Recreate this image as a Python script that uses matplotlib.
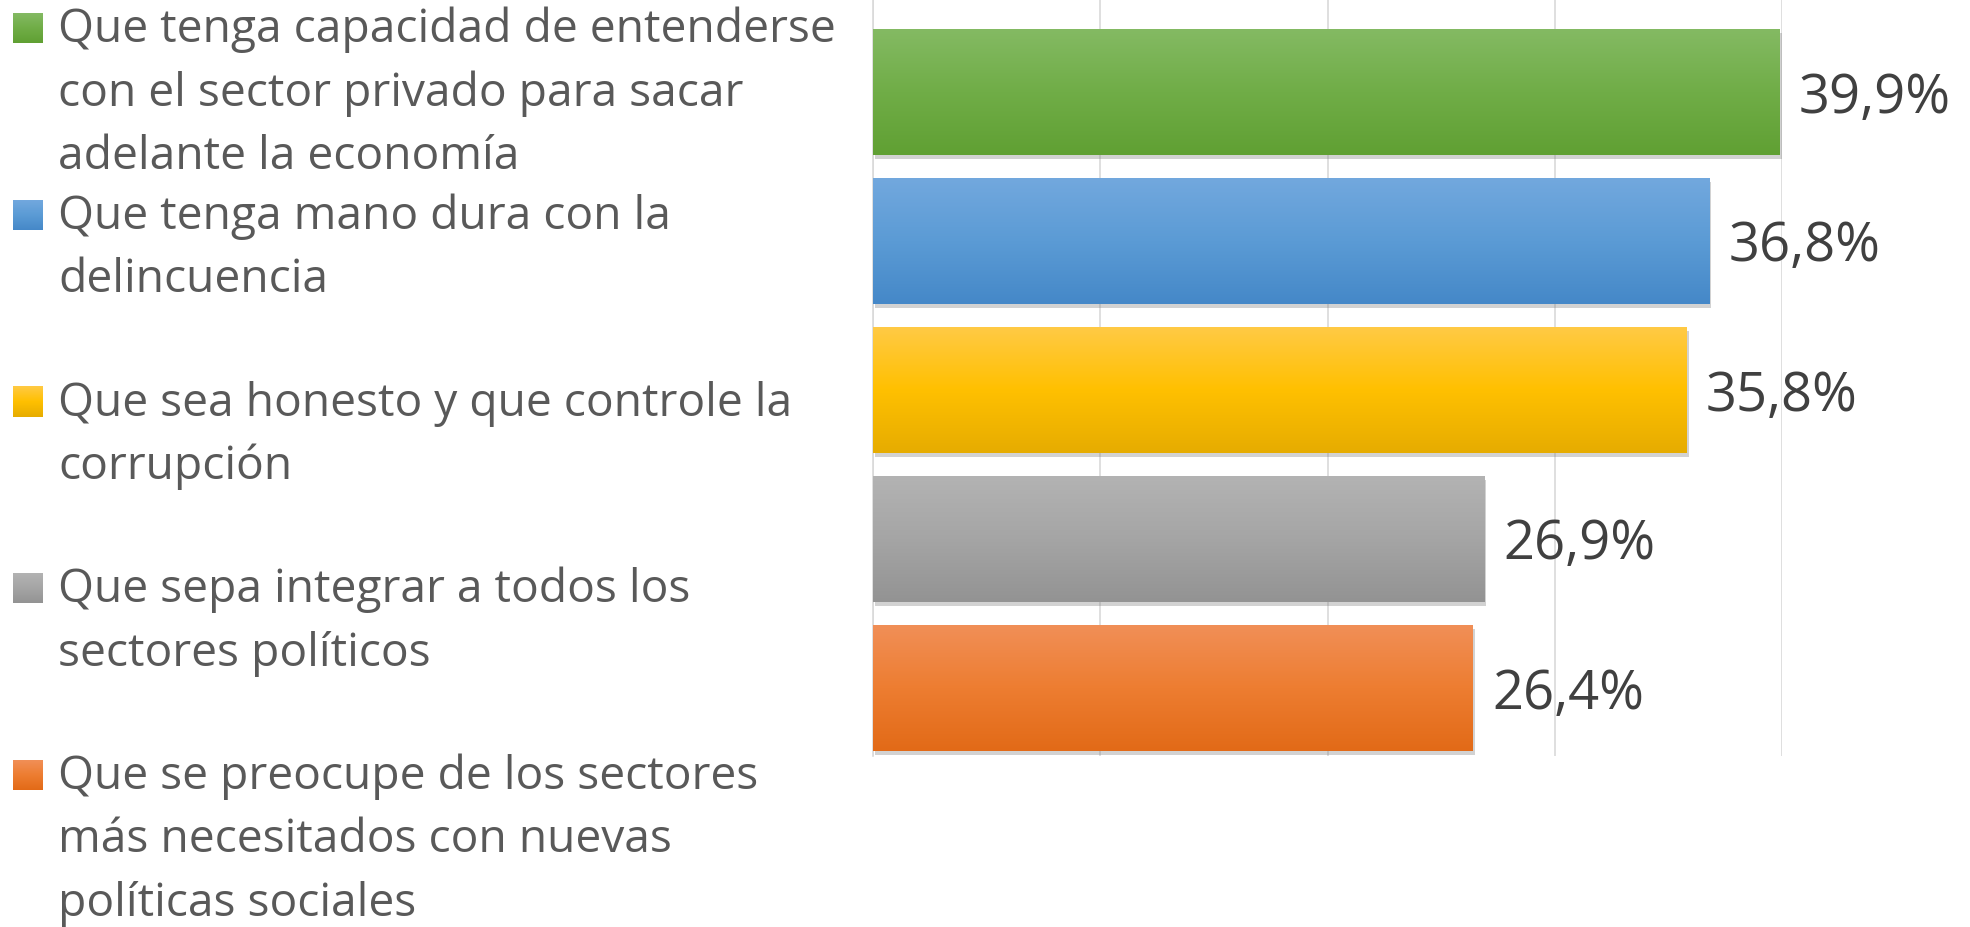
import numpy as np
import matplotlib
matplotlib.use("Agg")
import matplotlib.pyplot as plt
import matplotlib.patheffects as pe
from matplotlib.colors import LinearSegmentedColormap, to_rgb

# ---------------- data ----------------
categories = [
    "Que tenga capacidad de entenderse\ncon el sector privado para sacar\nadelante la economía",
    "Que tenga mano dura con la\ndelincuencia",
    "Que sea honesto y que controle la\ncorrupción",
    "Que sepa integrar a todos los\nsectores políticos",
    "Que se preocupe de los sectores\nmás necesitados con nuevas\npolíticas sociales",
]
values = [39.9, 36.8, 35.8, 26.9, 26.4]
value_labels = ["39,9%", "36,8%", "35,8%", "26,9%", "26,4%"]
grid_ticks = [0, 10, 20, 30, 40]

# gradient colours (top, middle, bottom)
gradients = [
    ("#84BA63", "#70AD47", "#60A033"),
    ("#72A8DE", "#5B9BD5", "#4588C8"),
    ("#FFCA45", "#FFC000", "#E6AC00"),
    ("#B3B3B3", "#A5A5A5", "#939393"),
    ("#F18F57", "#ED7D31", "#E26A17"),
]

FONT = ["Open Sans", "DejaVu Sans"]
plt.rcParams["font.family"] = FONT

W, H = 1970, 927
DPI = 100
fig = plt.figure(figsize=(W / DPI, H / DPI), dpi=DPI)
fig.patch.set_facecolor("white")
renderer = fig.canvas.get_renderer()

def fit_size(txt, target_px, base=30):
    t = fig.text(0, 0, txt, fontsize=base)
    w = t.get_window_extent(renderer).width
    t.remove()
    return base * target_px / w

# ---------------- bar axes ----------------
ax_left, ax_right = 873, 1782
ax_top, ax_bottom = 0, 756
ax = fig.add_axes([ax_left / W, 1 - ax_bottom / H, (ax_right - ax_left) / W, (ax_bottom - ax_top) / H])
ax.set_facecolor("none")

pitch = 149.0
first_center = 92.0
y_top = 0 - (first_center - ax_top) / pitch
y_bot = (len(values) - 1) + (ax_bottom - (first_center + (len(values) - 1) * pitch)) / pitch
ax.set_ylim(y_bot, y_top)
ax.set_xlim(grid_ticks[0], grid_ticks[-1])

ypos = np.arange(len(values))
bar_h = 126.0 / pitch

for x in grid_ticks:
    ax.axvline(x, color="#D9D9D9", lw=1.2, zorder=0)

bars = ax.barh(ypos, values, height=bar_h, color=[g[1] for g in gradients], zorder=2,
               linewidth=0)

def make_cmap(g):
    return LinearSegmentedColormap.from_list("g", [to_rgb(g[0]), to_rgb(g[1]), to_rgb(g[2])])

grad_arr = np.linspace(0, 1, 256).reshape(-1, 1)
for patch, g in zip(bars.patches, gradients):
    patch.set_path_effects([pe.SimplePatchShadow(offset=(1.5, -3), shadow_rgbFace="#7F7F7F", alpha=0.35),
                            pe.Normal()])
    x0, y0 = patch.get_x(), patch.get_y()
    w, h = patch.get_width(), patch.get_height()
    im = ax.imshow(grad_arr, cmap=make_cmap(g), extent=(x0, x0 + w, y0 + h, y0),
                   aspect="auto", origin="upper", zorder=3, interpolation="bilinear")
    im.set_clip_path(patch)

ax.set_xlim(grid_ticks[0], grid_ticks[-1])
ax.set_ylim(y_bot, y_top)

val_fs = fit_size(value_labels[0], 152)
for yi, v, lab in zip(ypos, values, value_labels):
    ax.annotate(lab, xy=(v, yi), xytext=(19, -6), textcoords="offset pixels",
                ha="left", va="center", fontsize=val_fs, color="#404040",
                annotation_clip=False, zorder=5)

for s in ["top", "right", "bottom"]:
    ax.spines[s].set_visible(False)
ax.spines["left"].set_color("#D9D9D9")
ax.spines["left"].set_linewidth(1.2)
ax.set_xticks([])
ax.set_yticks([])

# ---------------- legend (pixel overlay) ----------------
lg = fig.add_axes([0, 0, 1, 1], zorder=-1)
lg.set_xlim(0, W)
lg.set_ylim(H, 0)
lg.axis("off")

first_baseline = 42.0
entry_step = 186.75
line_step = 63.5
text_x = 58
sq_x0, sq_size = 13, 30

leg_fs = fit_size(categories[0].split("\n")[0], 777)

for i, (cat, g) in enumerate(zip(categories, gradients)):
    base = first_baseline + i * entry_step
    sq_y0 = base - 29
    lg.imshow(grad_arr, cmap=make_cmap(g), extent=(sq_x0, sq_x0 + sq_size, sq_y0 + sq_size, sq_y0),
              aspect="auto", origin="upper", interpolation="bilinear")
    for j, line in enumerate(cat.split("\n")):
        lg.text(text_x, base + j * line_step, line, ha="left", va="baseline",
                fontsize=leg_fs, color="#595959")

lg.set_xlim(0, W)
lg.set_ylim(H, 0)

fig.savefig("out.png", dpi=DPI, facecolor="white")
